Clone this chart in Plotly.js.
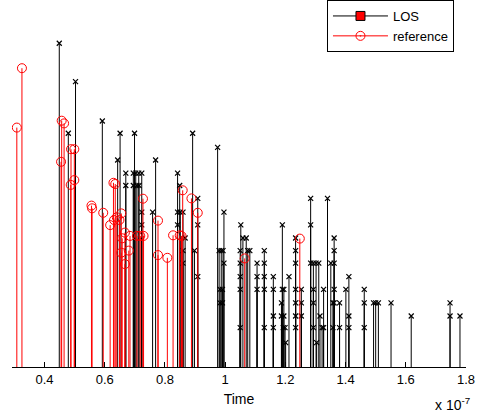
<!DOCTYPE html>
<html>
<head>
<meta charset="utf-8">
<script src="https://cdn.plot.ly/plotly-3.0.1.min.js"></script>
<style>html,body{margin:0;padding:0;background:#fff;}#chart{width:478px;height:416px;}</style>
</head>
<body>
<div id="chart"></div>
<script>
// Time values in units of 1e-7 s, amplitudes in arbitrary units
const losTime = [
  0.449, 0.479, 0.503, 0.592, 0.643, 0.651, 0.670, 0.670, 0.695, 0.695,
  0.699, 0.703, 0.707, 0.713, 0.714, 0.723, 0.723, 0.723, 0.759, 0.769,
  0.842, 0.842, 0.842, 0.849, 0.851, 0.860, 0.860, 0.860, 0.867, 0.892,
  0.898, 0.909, 0.909, 0.909, 0.975, 0.980, 0.983, 0.983, 0.987, 0.991,
  0.991, 0.993, 0.996, 0.996, 1.050, 1.050, 1.050, 1.050, 1.050, 1.052,
  1.059, 1.070, 1.075, 1.082, 1.106, 1.106, 1.106, 1.130, 1.130, 1.130,
  1.130, 1.130, 1.160, 1.160, 1.160, 1.160, 1.187, 1.187, 1.190, 1.190,
  1.193, 1.195, 1.195, 1.199, 1.201, 1.212, 1.234, 1.234, 1.234, 1.234,
  1.234, 1.234, 1.234, 1.253, 1.253, 1.253, 1.284, 1.284, 1.284, 1.293,
  1.293, 1.293, 1.293, 1.302, 1.304, 1.311, 1.315, 1.322, 1.327, 1.327,
  1.340, 1.351, 1.358, 1.358, 1.362, 1.362, 1.362, 1.362, 1.362, 1.380,
  1.380, 1.401, 1.411, 1.411, 1.411, 1.462, 1.462, 1.462, 1.493, 1.500,
  1.509, 1.551, 1.618, 1.747, 1.747, 1.780
];
const losAmp = [
  1.079, 0.779, 0.951, 0.820, 0.690, 0.779, 0.646, 0.605, 0.646, 0.605,
  0.779, 0.646, 0.605, 0.646, 0.605, 0.646, 0.516, 0.474, 0.516, 0.690,
  0.646, 0.516, 0.474, 0.605, 0.516, 0.516, 0.388, 0.346, 0.430, 0.779,
  0.388, 0.562, 0.474, 0.301, 0.732, 0.388, 0.259, 0.214, 0.388, 0.259,
  0.214, 0.388, 0.516, 0.346, 0.388, 0.346, 0.301, 0.259, 0.131, 0.474,
  0.430, 0.430, 0.388, 0.388, 0.346, 0.301, 0.259, 0.388, 0.346, 0.301,
  0.259, 0.131, 0.301, 0.259, 0.170, 0.131, 0.214, 0.170, 0.474, 0.259,
  0.131, 0.259, 0.170, 0.131, 0.081, 0.301, 0.430, 0.388, 0.346, 0.259,
  0.214, 0.170, 0.131, 0.259, 0.214, 0.170, 0.562, 0.474, 0.346, 0.346,
  0.259, 0.214, 0.131, 0.346, 0.081, 0.346, 0.170, 0.131, 0.259, 0.131,
  0.562, 0.346, 0.214, 0.131, 0.430, 0.388, 0.346, 0.259, 0.214, 0.214,
  0.131, 0.259, 0.301, 0.170, 0.131, 0.259, 0.214, 0.131, 0.214, 0.214,
  0.214, 0.214, 0.170, 0.214, 0.170, 0.170
];
const refTime = [
  0.308, 0.325, 0.455, 0.457, 0.465, 0.487, 0.488, 0.499, 0.499, 0.556,
  0.558, 0.595, 0.618, 0.629, 0.631, 0.635, 0.640, 0.649, 0.655, 0.655,
  0.658, 0.667, 0.667, 0.680, 0.684, 0.707, 0.718, 0.727, 0.729, 0.777,
  0.777, 0.808, 0.827, 0.849, 0.855, 0.859, 0.888, 0.909, 1.065, 1.248
];
const refAmp = [
  0.798, 0.996, 0.684, 0.821, 0.812, 0.607, 0.726, 0.726, 0.623, 0.538,
  0.529, 0.514, 0.473, 0.614, 0.490, 0.610, 0.499, 0.490, 0.512, 0.381,
  0.429, 0.448, 0.343, 0.388, 0.437, 0.437, 0.437, 0.561, 0.437, 0.488,
  0.373, 0.364, 0.439, 0.439, 0.437, 0.589, 0.562, 0.514, 0.362, 0.428
];
const tickVals = [0.4, 0.6, 0.8, 1.0, 1.2, 1.4, 1.6, 1.8];
const tickText = ['0.4', '0.6', '0.8', '1', '1.2', '1.4', '1.6', '1.8'];
const seriesNames = ['LOS', 'reference'];

function stems(xs, ys) {
  const sx = [], sy = [];
  for (let i = 0; i < xs.length; i++) {
    sx.push(xs[i], xs[i], null);
    sy.push(0, ys[i], null);
  }
  return {x: sx, y: sy};
}
const losS = stems(losTime, losAmp);
const refS = stems(refTime, refAmp);
const FONT = 'Liberation Sans, Arial, Helvetica, sans-serif';

const data = [
  {x: losS.x, y: losS.y, mode: 'lines', line: {color: '#000', width: 1}, showlegend: false, hoverinfo: 'skip'},
  {x: losTime, y: losAmp, mode: 'markers', marker: {symbol: 'x-thin-open', size: 5, color: '#000', line: {color: '#000', width: 1.2}}, showlegend: false},
  {x: refS.x, y: refS.y, mode: 'lines', line: {color: '#ff0000', width: 1}, showlegend: false, hoverinfo: 'skip'},
  {x: refTime, y: refAmp, mode: 'markers', marker: {symbol: 'circle-open', size: 9, color: '#ff0000', line: {color: '#ff0000', width: 1}}, showlegend: false},
  {x: [null], y: [null], name: seriesNames[0], mode: 'lines+markers', line: {color: '#000', width: 1},
   marker: {symbol: 'square', size: 9, color: '#ff0000', line: {color: '#000', width: 1}}},
  {x: [null], y: [null], name: seriesNames[1], mode: 'lines+markers', line: {color: '#ff0000', width: 1},
   marker: {symbol: 'circle-open-dot', size: 9, color: '#ff0000', line: {color: '#ff0000', width: 1}}}
];

const layout = {
  width: 478, height: 416,
  margin: {l: 12, r: 12, t: 0, b: 49},
  paper_bgcolor: '#fff', plot_bgcolor: '#fff',
  font: {family: FONT, size: 13, color: '#000'},
  xaxis: {
    range: [0.292, 1.8], showgrid: false, zeroline: false,
    showline: true, linecolor: '#000', linewidth: 1,
    ticks: 'inside', ticklen: 5, tickcolor: '#000', tickwidth: 1,
    tickvals: tickVals, ticktext: tickText,
    tickfont: {family: FONT, size: 13, color: '#000'},
    title: {text: 'Time', font: {family: FONT, size: 14, color: '#000'}, standoff: 8},
    automargin: false
  },
  yaxis: {range: [0, 1.2233], visible: false, fixedrange: true},
  showlegend: true,
  legend: {
    x: 0.9735, xanchor: 'right', y: 1.0, yanchor: 'top',
    bgcolor: '#fff', bordercolor: '#000', borderwidth: 1,
    font: {family: FONT, size: 13, color: '#000'},
    itemwidth: 55, tracegroupgap: 0
  },
  annotations: [{
    xref: 'paper', yref: 'paper', x: 1.013, y: -0.1308, xanchor: 'right', yanchor: 'bottom',
    text: 'x 10<sup>-7</sup>', showarrow: false, font: {family: FONT, size: 14, color: '#000'}
  }]
};

Plotly.newPlot('chart', data, layout, {displayModeBar: false, staticPlot: true});
</script>
</body>
</html>
